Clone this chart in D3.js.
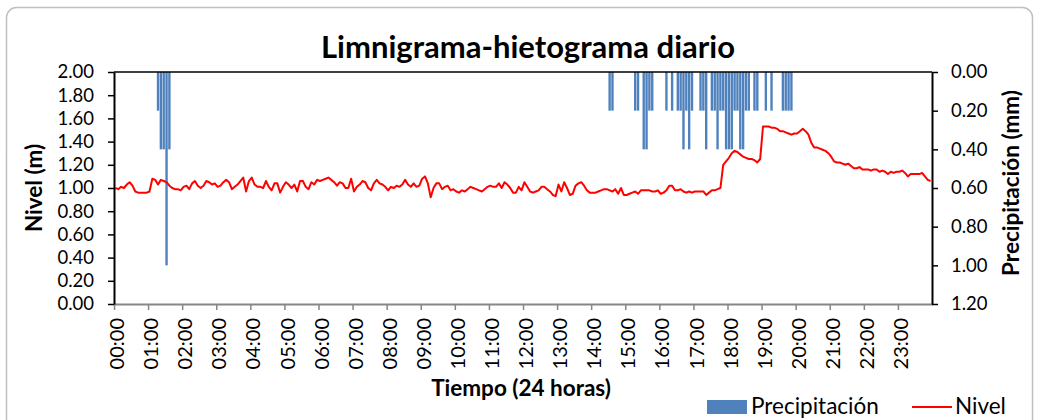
<!DOCTYPE html>
<html>
<head>
<meta charset="utf-8">
<script src="https://cdn.jsdelivr.net/npm/d3@7"></script>
<style>
  body { margin: 0; background: #fff; }
  text { font-family: Lato, "Open Sans", sans-serif; fill: #000; }
</style>
</head>
<body>
<div id="chart"></div>
<script>
// Nivel (m) cada 5 minutos, 00:00 - 23:55
const nivel = [
  1.00, 0.99, 1.01, 1.00, 1.03, 1.05, 1.02, 0.97, 0.96, 0.96, 0.96, 0.96,
  0.97, 1.08, 1.07, 1.03, 1.07, 1.06, 1.05, 1.02, 1.00, 0.99, 0.99, 0.98,
  1.01, 1.02, 0.99, 1.04, 1.06, 1.02, 1.00, 1.02, 1.06, 1.05, 1.03, 1.04,
  1.01, 1.02, 1.05, 1.07, 1.05, 0.99, 1.01, 1.03, 1.06, 1.09, 0.97, 1.06,
  1.09, 1.03, 1.01, 1.01, 1.00, 1.06, 1.01, 0.98, 1.04, 1.04, 0.96, 1.01,
  1.05, 1.03, 1.00, 1.03, 0.97, 1.06, 1.06, 1.01, 0.99, 1.05, 1.03, 1.07,
  1.06, 1.07, 1.08, 1.09, 1.07, 1.05, 1.02, 1.05, 1.04, 1.00, 1.00, 1.08,
  0.97, 1.01, 1.03, 1.06, 1.05, 1.00, 0.98, 1.04, 1.07, 1.04, 1.03, 1.01,
  0.98, 1.01, 1.00, 1.02, 1.01, 1.03, 1.07, 1.03, 1.01, 1.04, 1.01, 1.02,
  1.08, 1.10, 1.04, 0.92, 1.00, 1.04, 1.04, 0.99, 1.01, 1.02, 0.98, 0.99,
  0.97, 0.96, 0.98, 0.97, 0.99, 1.01, 1.00, 0.99, 0.98, 0.97, 0.99, 1.01,
  1.02, 1.01, 1.01, 1.04, 1.00, 1.05, 1.03, 1.00, 0.96, 0.96, 1.01, 0.98,
  1.05, 1.01, 0.97, 0.96, 0.97, 0.98, 1.01, 1.01, 0.99, 0.97, 0.94, 0.93,
  1.03, 0.97, 1.05, 1.00, 0.94, 0.95, 1.02, 1.04, 1.05, 1.02, 0.98, 0.96,
  0.96, 0.96, 0.97, 0.98, 0.99, 0.99, 0.98, 0.97, 0.99, 0.95, 1.00, 0.94,
  0.94, 0.95, 0.96, 0.97, 0.95, 0.98, 0.98, 0.98, 0.98, 0.97, 0.97, 0.98,
  0.95, 0.96, 0.98, 1.02, 1.02, 0.98, 0.98, 0.99, 0.97, 0.96, 0.97, 0.96,
  0.97, 0.97, 0.97, 0.97, 0.94, 0.96, 0.98, 0.98, 0.99, 1.00, 1.20, 1.23,
  1.26, 1.30, 1.32, 1.31, 1.29, 1.27, 1.26, 1.25, 1.25, 1.24, 1.22, 1.25,
  1.53, 1.53, 1.53, 1.52, 1.52, 1.51, 1.49, 1.49, 1.48, 1.47, 1.46, 1.47,
  1.47, 1.49, 1.51, 1.49, 1.46, 1.39, 1.35, 1.35, 1.34, 1.33, 1.32, 1.30,
  1.27, 1.23, 1.22, 1.22, 1.21, 1.20, 1.21, 1.19, 1.17, 1.17, 1.18, 1.16,
  1.16, 1.16, 1.15, 1.16, 1.16, 1.14, 1.15, 1.14, 1.12, 1.14, 1.13, 1.14,
  1.14, 1.15, 1.13, 1.10, 1.12, 1.12, 1.12, 1.12, 1.13, 1.10, 1.07, 1.06
];

// Precipitación (mm): solo los intervalos con lluvia
const lluviaHora = [
  "01:15", "01:20", "01:25", "01:30", "01:35",
  "14:30", "14:35", "15:15", "15:20", "15:30", "15:35", "15:40", "15:45",
  "16:10", "16:20", "16:30", "16:35", "16:40", "16:45", "16:50", "16:55",
  "17:10", "17:15", "17:20", "17:30", "17:35", "17:40", "17:45", "17:50", "17:55",
  "18:00", "18:05", "18:10", "18:15", "18:20", "18:25", "18:30", "18:35",
  "18:45", "18:50", "19:05", "19:15", "19:35", "19:40", "19:45", "19:50"
];
const lluviaMm = [
  0.2, 0.4, 0.4, 1.0, 0.4,
  0.2, 0.2, 0.2, 0.2, 0.4, 0.4, 0.2, 0.2,
  0.2, 0.2, 0.2, 0.2, 0.4, 0.2, 0.4, 0.2,
  0.2, 0.2, 0.4, 0.2, 0.2, 0.4, 0.2, 0.2, 0.4,
  0.4, 0.4, 0.2, 0.2, 0.4, 0.4, 0.2, 0.2,
  0.2, 0.2, 0.2, 0.2, 0.2, 0.2, 0.2, 0.2
];

const horas = ["00:00","01:00","02:00","03:00","04:00","05:00","06:00","07:00",
  "08:00","09:00","10:00","11:00","12:00","13:00","14:00","15:00","16:00",
  "17:00","18:00","19:00","20:00","21:00","22:00","23:00"];
const nivelTicks = [0, 0.2, 0.4, 0.6, 0.8, 1.0, 1.2, 1.4, 1.6, 1.8, 2.0];
const lluviaTicks = [0, 0.2, 0.4, 0.6, 0.8, 1.0, 1.2];

const paso = 5; // minutos por registro
const width = 1040, height = 420;
const margin = ({top: 72, right: 108, bottom: 116, left: 114});

const svg = d3.select("#chart").append("svg")
  .attr("width", width)
  .attr("height", height);

// marco del grafico
svg.append("rect")
  .attr("x", 6.5).attr("y", 7.5)
  .attr("width", 1026).attr("height", 430)
  .attr("rx", 10)
  .attr("fill", "#fff")
  .attr("stroke", "#bfbfbf")
  .attr("stroke-width", 1.5);

const toMin = s => +s.slice(0, 2) * 60 + +s.slice(3, 5);

const x = d3.scaleLinear()
  .domain([0, 1440])
  .range([margin.left, width - margin.right]);
const yL = d3.scaleLinear()
  .domain([0, 2])
  .range([height - margin.bottom, margin.top]);
const yR = d3.scaleLinear()
  .domain([0, 1.2])
  .range([margin.top, height - margin.bottom]);

const slot = x(paso) - x(0);

// barras de precipitacion (cuelgan del eje superior)
svg.append("g")
  .selectAll("rect")
  .data(lluviaHora.map((h, i) => ({t: toMin(h), v: lluviaMm[i]})))
  .join("rect")
  .attr("x", d => x(d.t) + slot * 0.08)
  .attr("y", yR(0))
  .attr("width", slot * 0.84)
  .attr("height", d => yR(d.v) - yR(0))
  .attr("fill", "#4f81bd");

// linea de nivel
const line = d3.line()
  .x((d, i) => x(i * paso + paso / 2))
  .y(d => yL(d));

svg.append("path")
  .datum(nivel)
  .attr("d", line)
  .attr("fill", "none")
  .attr("stroke", "#ff0000")
  .attr("stroke-width", 2)
  .attr("stroke-linejoin", "round");

// linea superior
svg.append("line")
  .attr("x1", x(0)).attr("x2", x(1440))
  .attr("y1", margin.top).attr("y2", margin.top)
  .attr("stroke", "#000").attr("stroke-width", 1.5);

// eje x
const xAxis = svg.append("g")
  .attr("transform", `translate(0,${height - margin.bottom})`)
  .call(d3.axisBottom(x)
    .tickValues(horas.map(toMin))
    .tickFormat((d, i) => horas[i])
    .tickSize(6)
    .tickSizeOuter(0));
xAxis.select(".domain").attr("stroke", "#868686").attr("stroke-width", 2);
xAxis.selectAll(".tick line").attr("stroke", "#868686").attr("stroke-width", 1.5);
xAxis.selectAll(".tick text")
  .attr("transform", "rotate(-90)")
  .attr("x", -14).attr("y", 0)
  .attr("dy", "0.48em")
  .style("text-anchor", "end")
  .style("font-size", "20px")
  .style("font-family", "Lato");

// eje izquierdo
const left = svg.append("g")
  .attr("transform", `translate(${margin.left},0)`)
  .call(d3.axisLeft(yL)
    .tickValues(nivelTicks)
    .tickFormat(d3.format(".2f"))
    .tickSize(6)
    .tickPadding(14)
    .tickSizeOuter(0));
left.select(".domain").attr("stroke", "#000").attr("stroke-width", 2);
left.selectAll(".tick line").attr("stroke", "#000").attr("stroke-width", 1.5);
left.selectAll(".tick text").style("font-size", "18.5px").style("font-family", "Lato");

// eje derecho
const right = svg.append("g")
  .attr("transform", `translate(${width - margin.right},0)`)
  .call(d3.axisRight(yR)
    .tickValues(lluviaTicks)
    .tickFormat(d3.format(".2f"))
    .tickSize(6)
    .tickPadding(13)
    .tickSizeOuter(0));
right.select(".domain").attr("stroke", "#000").attr("stroke-width", 2);
right.selectAll(".tick line").attr("stroke", "#000").attr("stroke-width", 1.5);
right.selectAll(".tick text").style("font-size", "18.5px").style("font-family", "Lato");

// titulos
svg.append("text")
  .attr("x", 528).attr("y", 58)
  .attr("text-anchor", "middle")
  .style("font-size", "31px").style("font-weight", "bold")
  .text("Limnigrama-hietograma diario");

svg.append("text")
  .attr("transform", "translate(42,188) rotate(-90)")
  .attr("text-anchor", "middle")
  .style("font-size", "22.5px").style("font-weight", "bold")
  .text("Nivel (m)");

svg.append("text")
  .attr("transform", "translate(1019,183) rotate(-90)")
  .attr("text-anchor", "middle")
  .style("font-size", "22.5px").style("font-weight", "bold")
  .text("Precipitación (mm)");

svg.append("text")
  .attr("x", 521).attr("y", 396)
  .attr("text-anchor", "middle")
  .style("font-size", "22.5px").style("font-weight", "bold")
  .text("Tiempo (24 horas)");

// leyenda
const legend = svg.append("g");
legend.append("rect")
  .attr("x", 707).attr("y", 400)
  .attr("width", 40).attr("height", 14)
  .attr("fill", "#4f81bd");
legend.append("text")
  .attr("x", 751).attr("y", 414)
  .style("font-size", "22.5px")
  .text("Precipitación");
legend.append("line")
  .attr("x1", 912).attr("x2", 952)
  .attr("y1", 407).attr("y2", 407)
  .attr("stroke", "#ff0000").attr("stroke-width", 2);
legend.append("text")
  .attr("x", 955).attr("y", 414)
  .style("font-size", "22.5px")
  .text("Nivel");
</script>
</body>
</html>
